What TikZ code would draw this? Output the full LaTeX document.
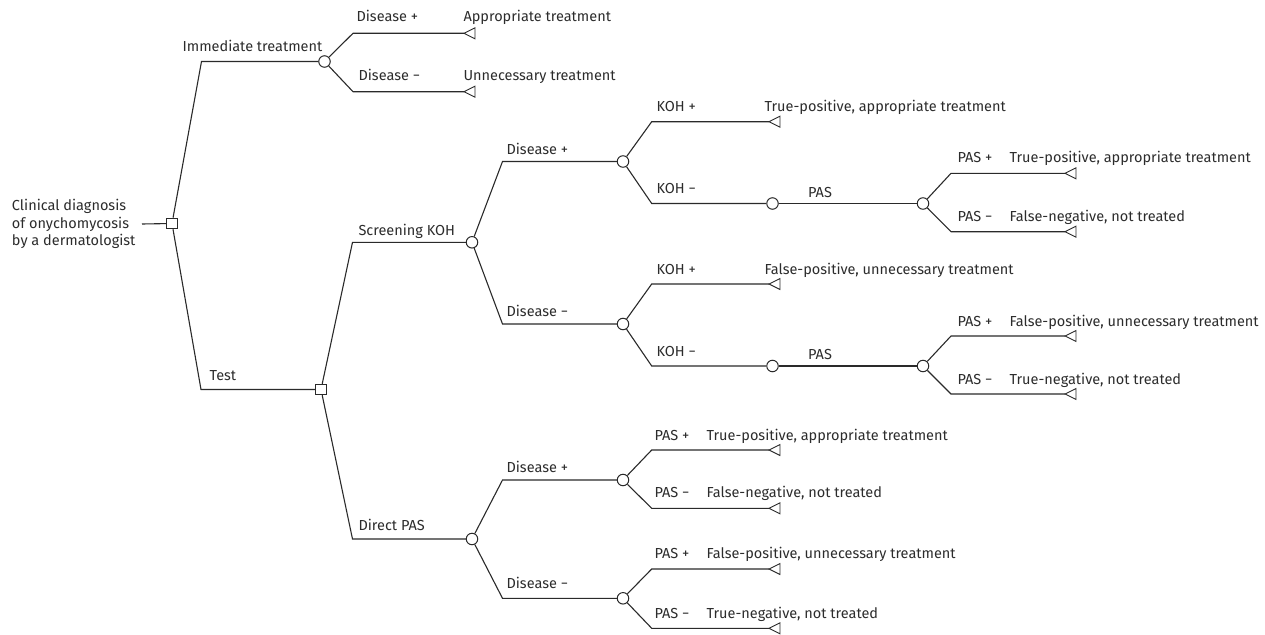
\documentclass[tikz,border=0pt]{standalone}
\usepackage{fontspec}
\setmainfont{Fira Sans}
\definecolor{lc}{HTML}{2A2A2A}
\definecolor{tc}{HTML}{2C2C2C}
\tikzset{
  leaf/.pic={\draw[lc, fill=white, line width=0.9pt] (0,0) -- (11,-5.5) -- (11,5.5) -- cycle;},
}
\begin{document}
\begin{tikzpicture}[x=1pt,y=-1pt, line width=1.1pt, color=lc,
  every node/.style={font=\fontsize{14.5}{17.7}\selectfont, text=tc},
  lbl/.style={anchor=base west, inner sep=0},
  chance/.style={circle, draw=lc, fill=white, minimum size=11.5pt, inner sep=0, line width=1pt},
  dec/.style={rectangle, draw=lc, fill=white, minimum size=10.5pt, inner sep=0, line width=1pt}]
\useasboundingbox (0,0) rectangle (1265,634);

% decision / chance nodes
\node[dec] (R) at (172,223.5) {};
\node[dec] (T) at (321,389.5) {};
\node[chance] (IT) at (324.5,61.5) {};
\node[chance] (SK) at (472,242.3) {};
\node[chance] (DP) at (472,539) {};
\node[chance] (D1) at (623,161.5) {};
\node[chance] (D2) at (623,324) {};
\node[chance] (D3) at (623,480) {};
\node[chance] (D4) at (623,598.3) {};
\node[chance] (C1) at (772.5,203.5) {};
\node[chance] (C2) at (772.5,366) {};
\node[chance] (P1) at (923,203.5) {};
\node[chance] (P2) at (923,366) {};

% terminal tips
\coordinate (tA1) at (464,33.3);
\coordinate (tA2) at (464,91.7);
\coordinate (tB1) at (769,121.7);
\coordinate (tB2) at (1065,173.3);
\coordinate (tB3) at (1065,231.7);
\coordinate (tC1) at (769,284);
\coordinate (tC2) at (1065,336);
\coordinate (tC3) at (1065,394);
\coordinate (tD1) at (769,450);
\coordinate (tD2) at (769,508.3);
\coordinate (tD3) at (769,569);
\coordinate (tD4) at (769,628.3);

% root label
\node[align=left, anchor=east, inner ysep=0, inner xsep=6pt] (rootlbl) at (142,224)
  {Clinical diagnosis\\of onychomycosis\\by a dermatologist};
\draw (rootlbl.east) -- (R);

% branches
\draw (R) -- (201.5,61.5) -- (IT);
\draw (R) -- (201,389.5) -- (T);
\draw (IT) -- (353,33.3) -- (tA1);
\draw (IT) -- (353,91.7) -- (tA2);
\draw (T) -- (352.5,242.3) -- (SK);
\draw (T) -- (352.5,539) -- (DP);
\draw (SK) -- (502.5,161.5) -- (D1);
\draw (SK) -- (502.5,324) -- (D2);
\draw (DP) -- (502.5,480) -- (D3);
\draw (DP) -- (502.5,598.3) -- (D4);
\draw (D1) -- (651.7,121.7) -- (tB1);
\draw (D1) -- (651.7,203.5) -- (C1);
\draw (C1) -- (P1);
\draw (P1) -- (951,173.3) -- (tB2);
\draw (P1) -- (951,231.7) -- (tB3);
\draw (D2) -- (651.7,284) -- (tC1);
\draw (D2) -- (651.7,366) -- (C2);
\draw (C2) -- (P2);
\draw (P2) -- (951,336) -- (tC2);
\draw (P2) -- (951,394) -- (tC3);
\draw (D3) -- (651.7,450) -- (tD1);
\draw (D3) -- (651.7,508.3) -- (tD2);
\draw (D4) -- (651.7,569) -- (tD3);
\draw (D4) -- (651.7,628.3) -- (tD4);

% terminal triangles
\foreach \t in {tA1,tA2,tB1,tB2,tB3,tC1,tC2,tC3,tD1,tD2,tD3,tD4}
  \pic at (\t) {leaf};

% labels
\node[lbl] (l1) at (182,51.7) {Immediate treatment};
\node[lbl] (l2) at (356,21.7) {Disease +};
\node[lbl] (l3) at (463,21.7) {Appropriate treatment};
\node[lbl] (l4) at (358,81) {Disease −};
\node[lbl] (l5) at (463,81) {Unnecessary treatment};
\node[lbl] (l6) at (209,380.7) {Test};
\node[lbl] (l7) at (358,235) {Screening KOH};
\node[lbl] (l8) at (358,530) {Direct PAS};
\node[lbl] (l9) at (506,154) {Disease +};
\node[lbl] (l10) at (506,316) {Disease −};
\node[lbl] (l11) at (656,111.7) {KOH +};
\node[lbl] (l12) at (764,111.7) {True-positive, appropriate treatment};
\node[lbl] (l13) at (656,193.5) {KOH −};
\node[anchor=base, inner sep=0] (l14) at (820,197.3) {PAS};
\node[lbl] (l15) at (957,162.7) {PAS +};
\node[lbl] (l16) at (1009,162.7) {True-positive, appropriate treatment};
\node[lbl] (l17) at (957,221.7) {PAS −};
\node[lbl] (l18) at (1009,221.7) {False-negative, not treated};
\node[lbl] (l19) at (656,274) {KOH +};
\node[lbl] (l20) at (764,274) {False-positive, unnecessary treatment};
\node[lbl] (l21) at (656,356) {KOH −};
\node[anchor=base, inner sep=0] (l22) at (820,359.5) {PAS};
\node[lbl] (l23) at (957,326) {PAS +};
\node[lbl] (l24) at (1009,326) {False-positive, unnecessary treatment};
\node[lbl] (l25) at (957,384.5) {PAS −};
\node[lbl] (l26) at (1009,384.5) {True-negative, not treated};
\node[lbl] (l27) at (506,472) {Disease +};
\node[lbl] (l28) at (506,588) {Disease −};
\node[lbl] (l29) at (654,440) {PAS +};
\node[lbl] (l30) at (706,440) {True-positive, appropriate treatment};
\node[lbl] (l31) at (654,497) {PAS −};
\node[lbl] (l32) at (706,497) {False-negative, not treated};
\node[lbl] (l33) at (654,558) {PAS +};
\node[lbl] (l34) at (706,558) {False-positive, unnecessary treatment};
\node[lbl] (l35) at (654,618) {PAS −};
\node[lbl] (l36) at (706,618) {True-negative, not treated};
\end{tikzpicture}
\end{document}
